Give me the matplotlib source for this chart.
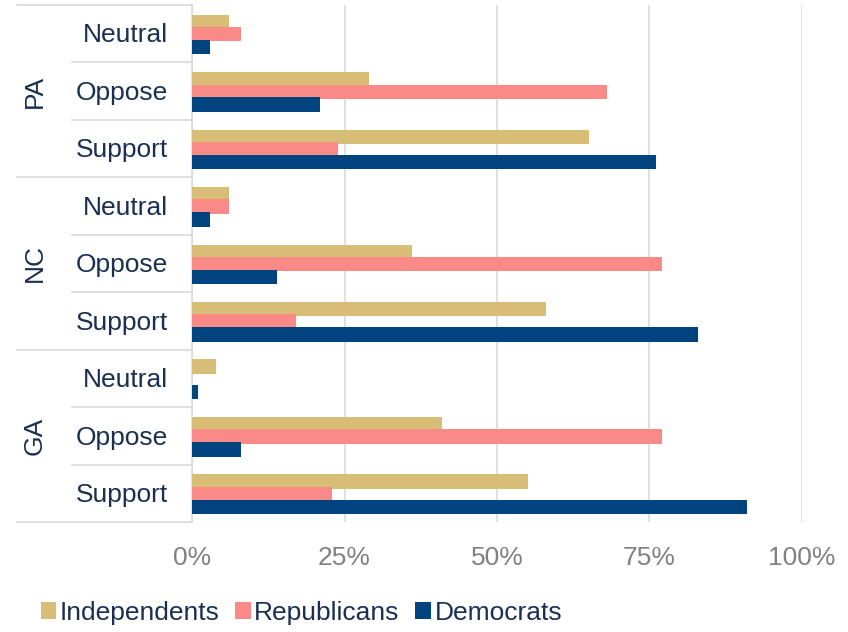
import numpy as np
import matplotlib
matplotlib.use("Agg")
import matplotlib.pyplot as plt
from matplotlib.ticker import PercentFormatter

plt.rcParams['font.family'] = ['Liberation Sans', 'DejaVu Sans']

states = ['PA', 'NC', 'GA']
stances = ['Neutral', 'Oppose', 'Support']
series = ['Independents', 'Republicans', 'Democrats']
colors = ['#D8BD77', '#F98A88', '#00437F']

# values per row: PA (Neutral, Oppose, Support), NC (...), GA (...)
independents = [0.06, 0.29, 0.65, 0.06, 0.36, 0.58, 0.04, 0.41, 0.55]
republicans = [0.08, 0.68, 0.24, 0.06, 0.77, 0.17, 0.00, 0.77, 0.23]
democrats = [0.03, 0.21, 0.76, 0.03, 0.14, 0.83, 0.01, 0.08, 0.91]
values = [independents, republicans, democrats]

W, H = 848, 632
fig = plt.figure(figsize=(W / 100, H / 100), dpi=100)
ax = fig.add_axes([192 / W, 1 - 522 / H, (802 - 192) / W, (522 - 5) / H])

rows = np.arange(len(independents))
offsets = [-0.205, 0.01, 0.235]
for vals, off, c, name in zip(values, offsets, colors, series):
    ax.barh(rows + off, vals, height=0.25, color=c, label=name, zorder=3)

ax.set_ylim(len(rows) - 0.5, -0.5)
ax.set_xlim(0, 1)
ax.set_xticks([0, 0.25, 0.5, 0.75, 1.0])
ax.xaxis.set_major_formatter(PercentFormatter(1.0, decimals=0))
ax.tick_params(axis='x', length=0, pad=17, labelsize=19, labelcolor='#808080')
ax.set_yticks([])
ax.grid(axis='x', color='#D9D9D9', linewidth=1.2, zorder=0)
for s in ['top', 'right', 'bottom']:
    ax.spines[s].set_visible(False)
ax.spines['left'].set_color('#D9D9D9')
ax.spines['left'].set_linewidth(1.2)

# table of labels on the left
tr = ax.get_yaxis_transform()
x_outer = (17 - 192) / 610
x_inner = (72 - 192) / 610
text_color = '#1B2F52'
for i in range(len(rows) + 1):
    y = i - 0.5
    x0 = x_outer if i % 3 == 0 else x_inner
    ax.plot([x0, 0], [y, y], transform=tr, color='#D9D9D9', lw=1.2, clip_on=False)
for i, r in enumerate(rows):
    ax.text((168 - 192) / 610, r + 0.03, stances[i % 3], transform=tr, ha='right',
            va='center', fontsize=19, color=text_color)
for j, st in enumerate(states):
    ax.text((35 - 192) / 610, 3 * j + 1, st, transform=tr, ha='center', va='center',
            rotation=90, fontsize=19, color=text_color)

leg = fig.legend(loc='center left', bbox_to_anchor=(30 / W, 1 - 613 / H), ncol=3,
                 frameon=False, fontsize=19, handlelength=0.6, handleheight=0.6,
                 handletextpad=0.12, columnspacing=0.6, borderaxespad=0)
for t in leg.get_texts():
    t.set_color(text_color)

fig.savefig('out.png', dpi=100)
